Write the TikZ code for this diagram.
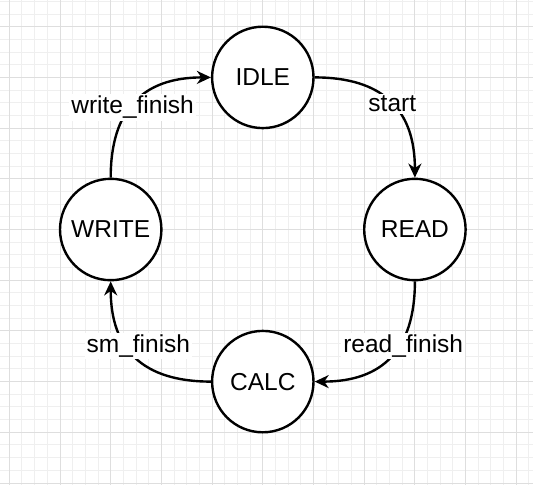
\documentclass[tikz,border=0pt]{standalone}
\usepackage{fontspec}
\setmainfont{Liberation Sans}
\usetikzlibrary{arrows.meta}
\definecolor{gridminor}{HTML}{EFEFEF}
\definecolor{gridmajor}{HTML}{DEDEDE}
\begin{document}
\begin{tikzpicture}[x=1pt,y=-1pt,
  state/.style={circle,draw=black,line width=2.4pt,fill=white,minimum size=101.4pt,inner sep=0pt,font=\fontsize{24.5}{28}\selectfont},
  trans/.style={line width=2.4pt,-{Stealth[length=14pt,width=13pt,inset=4.5pt]}},
  lbl/.style={fill=white,inner sep=2pt,font=\fontsize{24.5}{28}\selectfont},
  minorline/.style={draw=gridminor,line width=1pt},
  majorline/.style={draw=gridmajor,line width=1pt}]
\useasboundingbox (0,0) rectangle (533,485);
\fill[white] (0,0) rectangle (533,485);
\foreach \i in {0,...,41} {
  \draw[minorline] ({9.3+12.675*\i},0) -- ({9.3+12.675*\i},485);
}
\foreach \i in {0,...,38} {
  \draw[minorline] (0,{1.35+12.675*\i}) -- (533,{1.35+12.675*\i});
}
\foreach \i in {0,...,10} {
  \draw[majorline] ({9.3+50.7*\i},0) -- ({9.3+50.7*\i},485);
}
\foreach \i in {0,...,9} {
  \draw[majorline] (0,{26.7+50.7*\i}) -- (533,{26.7+50.7*\i});
}
\node[state] (idle)  at (262.8,77.4)  {IDLE};
\node[state] (read)  at (414.9,229.5) {READ};
\node[state] (calc)  at (262.8,381.6) {CALC};
\node[state] (write) at (110.7,229.5) {WRITE};
\draw[trans] (idle.east) .. controls +(68,0) and +(0,-68) .. node[lbl,pos=0.5,xshift=2pt,yshift=-2pt] (lstart) {start} (read.north);
\draw[trans] (read.south) .. controls +(0,68) and +(68,0) .. node[lbl,pos=0.4,xshift=4pt] (lread) {read\_finish} (calc.east);
\draw[trans] (calc.west) .. controls +(-68,0) and +(0,68) .. node[lbl,pos=0.6,xshift=12pt] (lsm) {sm\_finish} (write.south);
\draw[trans] (write.north) .. controls +(0,-68) and +(-68,0) .. node[lbl,pos=0.45,xshift=2pt] (lwrite) {write\_finish} (idle.west);
\end{tikzpicture}
\end{document}
